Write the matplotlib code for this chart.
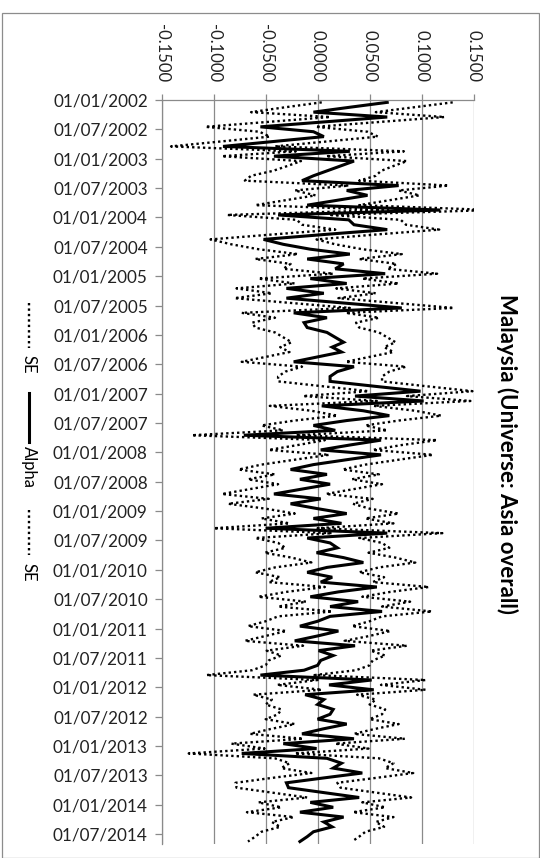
import matplotlib
matplotlib.use("Agg")
import matplotlib.pyplot as plt
from matplotlib.lines import Line2D
from matplotlib.patches import Rectangle
import numpy as np

plt.rcParams['font.family'] = ['Lato', 'DejaVu Sans']

# ---- data (monthly, Jan 2002 .. Aug 2014) ----
alpha = [
    0.067, 0.031, -0.004, 0.067, 0.006, -0.055, -0.004, 0.006, -0.042, -0.091,
    0.031, -0.042, 0.035, 0.022, 0.009, -0.004, -0.015, 0.078, 0.028, 0.048,
    0.019, -0.010, 0.118, -0.038, 0.030, 0.035, 0.067, 0.006, -0.052, -0.033,
    -0.007, 0.031, -0.010, 0.025, 0.017, 0.065, -0.007, 0.028, -0.030, 0.006,
    -0.030, 0.025, 0.081, -0.023, 0.009, -0.013, -0.010, 0.009, 0.017, 0.025,
    0.014, 0.023, 0.000, -0.023, 0.035, 0.019, 0.012, 0.012, 0.055, 0.099,
    0.036, 0.102, 0.004, 0.044, 0.069, 0.028, -0.004, 0.017, -0.071, 0.061,
    0.031, 0.003, 0.061, 0.028, -0.004, -0.026, 0.009, -0.017, 0.012, -0.015,
    -0.042, 0.003, -0.026, 0.000, 0.028, -0.004, 0.023, -0.050, 0.067, -0.010,
    0.012, 0.019, -0.001, 0.025, 0.044, 0.009, -0.010, 0.014, 0.003, 0.057,
    0.020, -0.007, 0.039, 0.012, 0.062, 0.012, 0.000, -0.017, 0.020, 0.000,
    -0.022, 0.036, 0.001, 0.015, 0.003, 0.000, -0.013, -0.055, 0.052, 0.011,
    0.054, -0.012, 0.006, 0.000, 0.015, 0.012, 0.000, 0.028, 0.005, -0.015,
    0.035, -0.033, -0.001, -0.073, 0.009, 0.023, 0.015, 0.043, 0.006, -0.030,
    -0.028, 0.006, 0.040, -0.007, 0.015, -0.017, 0.025, 0.006, 0.014, -0.004,
    -0.010, -0.017,
]
se = [
    0.063, 0.062, 0.060, 0.055, 0.054, 0.053, 0.052, 0.052, 0.051, 0.050,
    0.052, 0.050, 0.051, 0.051, 0.052, 0.060, 0.055, 0.048, 0.050, 0.050,
    0.050, 0.050, 0.050, 0.049, 0.050, 0.050, 0.050, 0.050, 0.051, 0.050,
    0.050, 0.050, 0.050, 0.051, 0.050, 0.050, 0.050, 0.050, 0.048, 0.050,
    0.050, 0.050, 0.050, 0.050, 0.050, 0.050, 0.050, 0.050, 0.050, 0.050,
    0.050, 0.050, 0.050, 0.050, 0.050, 0.050, 0.050, 0.050, 0.050, 0.050,
    0.050, 0.045, 0.050, 0.050, 0.050, 0.050, 0.050, 0.050, 0.050, 0.054,
    0.050, 0.050, 0.050, 0.050, 0.050, 0.050, 0.050, 0.050, 0.050, 0.050,
    0.050, 0.050, 0.060, 0.050, 0.050, 0.050, 0.050, 0.050, 0.053, 0.050,
    0.050, 0.050, 0.050, 0.050, 0.050, 0.050, 0.050, 0.050, 0.050, 0.050,
    0.050, 0.050, 0.050, 0.050, 0.048, 0.050, 0.050, 0.050, 0.050, 0.050,
    0.048, 0.050, 0.050, 0.050, 0.050, 0.050, 0.050, 0.052, 0.052, 0.050,
    0.050, 0.050, 0.050, 0.050, 0.050, 0.050, 0.050, 0.050, 0.050, 0.050,
    0.049, 0.050, 0.050, 0.051, 0.050, 0.050, 0.050, 0.049, 0.050, 0.049,
    0.050, 0.050, 0.050, 0.050, 0.050, 0.051, 0.048, 0.050, 0.050, 0.050,
    0.050, 0.050,
]
value_ticks = [-0.15, -0.10, -0.05, 0.0, 0.05, 0.10, 0.15]
value_labels = ["-0.1500", "-0.1000", "-0.0500", "0.0000", "0.0500", "0.1000", "0.1500"]
years = list(range(2002, 2015))
date_labels = [f"01/{m}/{y}" for y in years for m in ("01", "07")]
title = "Malaysia (Universe: Asia overall)"

alpha_a = np.array(alpha)
se_a = np.array(se)
upper = alpha_a + se_a
lower = alpha_a - se_a
ypos = np.arange(len(alpha)) + 0.5   # mid-month positions on the month axis

W, H = 540, 858
fig = plt.figure(figsize=(W / 100, H / 100), dpi=100)
fig.patch.set_facecolor("white")

# outer chart border
fig.add_artist(Rectangle((1.5 / W, 0.0), (W - 3) / W, 1 - 12.5 / H,
                         transform=fig.transFigure, fill=False,
                         edgecolor="#8c8c8c", lw=0.9))

ax = fig.add_axes([161.7 / W, 1 - 844 / H, (473.5 - 161.7) / W, (844 - 99.9) / H])
grid_c = "#8a8a8a"

dot = (0, (1.0, 1.3))
ax.plot(upper, ypos, color="black", lw=1.7, linestyle=dot)
ax.plot(alpha_a, ypos, color="black", lw=2.2, solid_joinstyle="miter")
ax.plot(lower, ypos, color="black", lw=1.7, linestyle=dot)

ax.set_xlim(-0.15, 0.15)
ax.set_ylim(6 * 25 + 2, 0)

ax.xaxis.tick_top()
ax.set_xticks(value_ticks)
ax.set_xticklabels(value_labels, rotation=-90, fontsize=12, color="#222222")
ax.tick_params(axis="x", length=4, width=0.9, color=grid_c, pad=9)

ax.set_yticks(np.arange(0, 6 * len(date_labels), 6))
ax.set_yticklabels(date_labels, fontsize=12.3, color="#222222")
ax.tick_params(axis="y", length=5, width=0.9, color=grid_c, pad=5)

ax.grid(axis="x", color=grid_c, lw=0.9)
ax.set_axisbelow(True)
for s in ("right", "bottom"):
    ax.spines[s].set_visible(False)
for s in ("top", "left"):
    ax.spines[s].set_color(grid_c)
    ax.spines[s].set_linewidth(0.9)

# title (rotated, on the right)
fig.text(507 / W, 1 - 454 / H, title, rotation=-90, ha="center", va="center",
         fontsize=16, fontweight="bold", color="black")

# legend (rotated, on the left)
lx = 29 / W
def seg(y0, y1, style, lw):
    fig.add_artist(Line2D([lx, lx], [1 - y0 / H, 1 - y1 / H], transform=fig.transFigure,
                          color="black", lw=lw, linestyle=style))
seg(303, 348, dot, 1.7)
fig.text(lx, 1 - 355 / H, "SE", rotation=-90, ha="center", va="top", fontsize=12)
seg(393, 442, "-", 2.2)
fig.text(lx, 1 - 446 / H, "Alpha", rotation=-90, ha="center", va="top", fontsize=12)
seg(510, 555, dot, 1.7)
fig.text(lx, 1 - 563 / H, "SE", rotation=-90, ha="center", va="top", fontsize=12)

fig.savefig("out.png", dpi=100)
